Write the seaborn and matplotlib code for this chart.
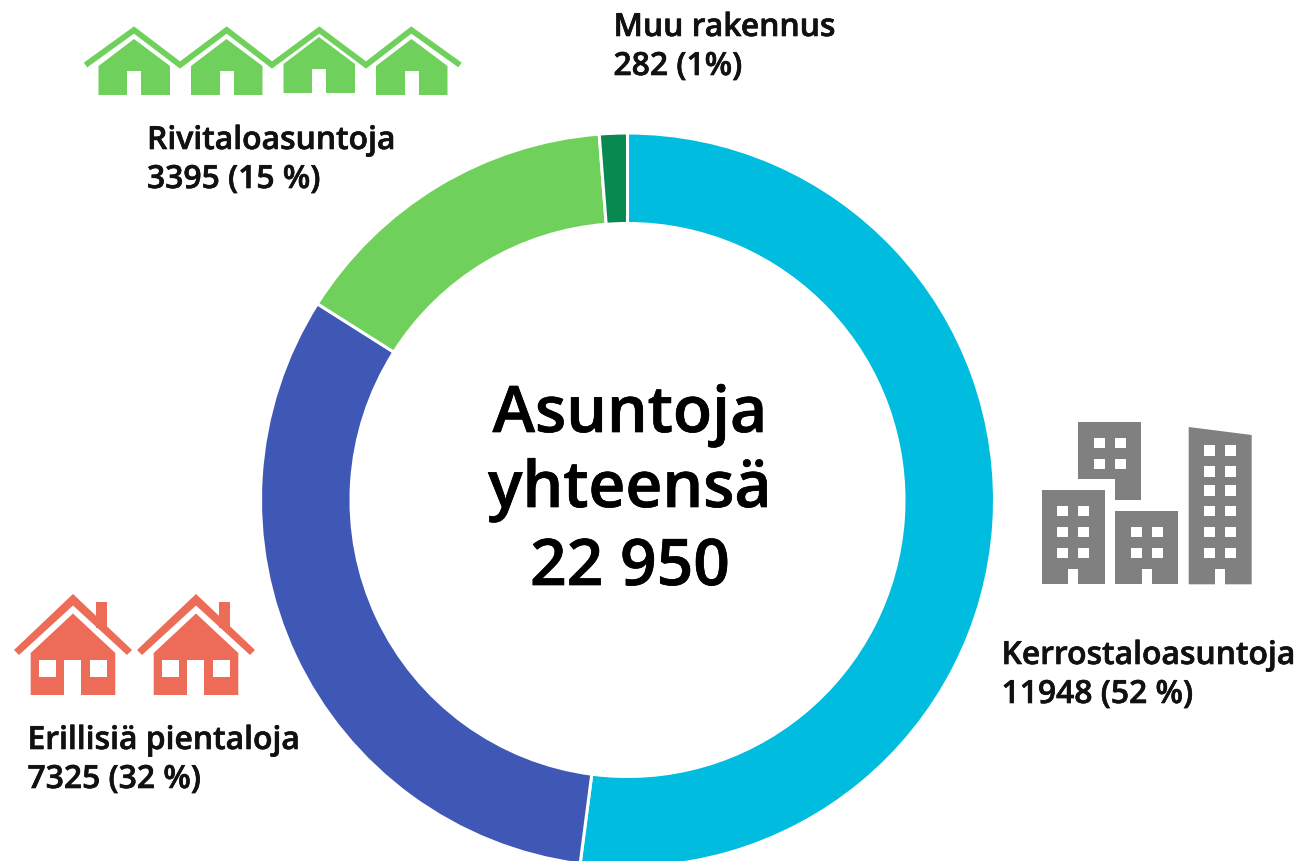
import matplotlib
matplotlib.use("Agg")
import matplotlib.pyplot as plt
import matplotlib.patheffects as pe
from matplotlib.patches import Polygon, Rectangle
import seaborn as sns

categories = ["Kerrostaloasuntoja", "Erillisiä pientaloja", "Rivitaloasuntoja", "Muu rakennus"]
values = [11948, 7325, 3395, 282]
value_labels = ["11948 (52 %)", "7325 (32 %)", "3395 (15 %)", "282 (1%)"]
center_lines = ["Asuntoja", "yhteensä", "22 950"]

CYAN = "#00bcde"
BLUE = "#3f57b5"
GREEN = "#6fd15c"
DARK_GREEN = "#08894f"
RED = "#ec6c57"
GREY = "#808080"

sns.set_theme(style="white")
plt.rcParams["font.family"] = ["Open Sans", "DejaVu Sans"]


def rect(ax, x0, y0, x1, y1, color):
    ax.add_patch(Rectangle((x0, y0), x1 - x0, y1 - y0, facecolor=color, edgecolor="none"))


def green_houses(ax):
    # one roof line runs over all four houses
    ax.plot([85.5, 134, 180, 226.7, 272, 319.3, 366, 411.3, 460],
            [66, 31, 66, 31, 66, 31, 66, 31, 66],
            color=GREEN, lw=4.2, solid_joinstyle="miter", solid_capstyle="butt")
    for dx, dy in [(0, 0), (92.5, 0), (185, -2), (277.5, 0)]:
        ax.add_patch(Polygon([(98.5 + dx, 67 + dy), (134 + dx, 40 + dy), (170 + dx, 67 + dy),
                              (170 + dx, 96 + dy), (98.5 + dx, 96 + dy)],
                             facecolor=GREEN, edgecolor="none"))
        rect(ax, 127 + dx, 72 + dy, 141.3 + dx, 97, "white")


def red_house(ax, dx):
    ax.add_patch(Polygon([(73 + dx, 595), (132 + dx, 651), (127 + dx, 656), (73 + dx, 606.5),
                          (19 + dx, 656), (14 + dx, 651)], facecolor=RED, edgecolor="none"))
    rect(ax, 95.7 + dx, 603, 106.7 + dx, 629, RED)
    ax.add_patch(Polygon([(30.7 + dx, 654), (73 + dx, 614.5), (115.3 + dx, 654),
                          (115.3 + dx, 696), (30.7 + dx, 696)], facecolor=RED, edgecolor="none"))
    rect(ax, 64.3 + dx, 661, 81.3 + dx, 697, "white")
    rect(ax, 39 + dx, 661, 56 + dx, 678, "white")
    rect(ax, 89.7 + dx, 661, 106.7 + dx, 678, "white")


def windows(ax, xs, ys, size=10.7):
    for x in xs:
        for y in ys:
            rect(ax, x, y, x + size, y + size, "white")


def grey_buildings(ax):
    ax.add_patch(Polygon([(1078.3, 422.7), (1141.3, 422.7), (1141.3, 501.3), (1115, 501.3),
                          (1115, 480.3), (1078.3, 480.3)], facecolor=GREY, edgecolor="none"))
    windows(ax, [1094, 1115], [438.7, 459.7])

    rect(ax, 1041.7, 491, 1104.7, 585.3, GREY)
    windows(ax, [1057.3, 1078.3], [506.7, 527.7, 548.7])
    rect(ax, 1068, 569.7, 1078.3, 586, "white")

    rect(ax, 1115, 512, 1178, 585.3, GREY)
    windows(ax, [1131, 1152], [527.7, 548.7])
    rect(ax, 1141.7, 569.7, 1152, 586, "white")

    ax.add_patch(Polygon([(1188.7, 428), (1251.7, 436), (1251.7, 585.3), (1188.7, 585.3)],
                         facecolor=GREY, edgecolor="none"))
    windows(ax, [1204.3, 1225.3], [446, 467, 486, 506.7, 527.7, 548.7])
    rect(ax, 1215, 569.7, 1225.3, 586, "white")


fig = plt.figure(figsize=(13.01, 8.62), dpi=100)
ax = fig.add_axes([0, 0, 1, 1])

# y axis is flipped below, so the pie starts at -90 to begin at the top and run clockwise
ax.pie(values, colors=[CYAN, BLUE, GREEN, DARK_GREEN], startangle=-90, counterclock=True,
       center=(627.5, 501), radius=367, frame=True,
       wedgeprops={"width": 90.5, "edgecolor": "white", "linewidth": 2.2})
ax.set_xlim(0, 1301)
ax.set_ylim(862, 0)
ax.set_axis_off()

green_houses(ax)
red_house(ax, 0)
red_house(ax, 123)
grey_buildings(ax)

# the installed Open Sans has no true semibold, a thin stroke thickens it
label_fx = [pe.withStroke(linewidth=0.45, foreground="#111111")]
label_pos = [(1001.5, 665, 704), (27.5, 750, 789), (147, 150, 189), (613.5, 37, 76)]
for name, val, (x, y1, y2) in zip(categories, value_labels, label_pos):
    ax.text(x, y1, name, fontsize=22.95, fontweight=600, color="#111111", va="baseline", path_effects=label_fx)
    ax.text(x, y2, val, fontsize=22.95, fontweight=600, color="#111111", va="baseline", path_effects=label_fx)

center_fx = [pe.withStroke(linewidth=0.5, foreground="black")]
for line, y in zip(center_lines, [433, 508, 586]):
    ax.text(630, y, line, fontsize=46.2, fontweight=600, color="black", ha="center", va="baseline",
            path_effects=center_fx)

fig.savefig("out.png", dpi=100)
